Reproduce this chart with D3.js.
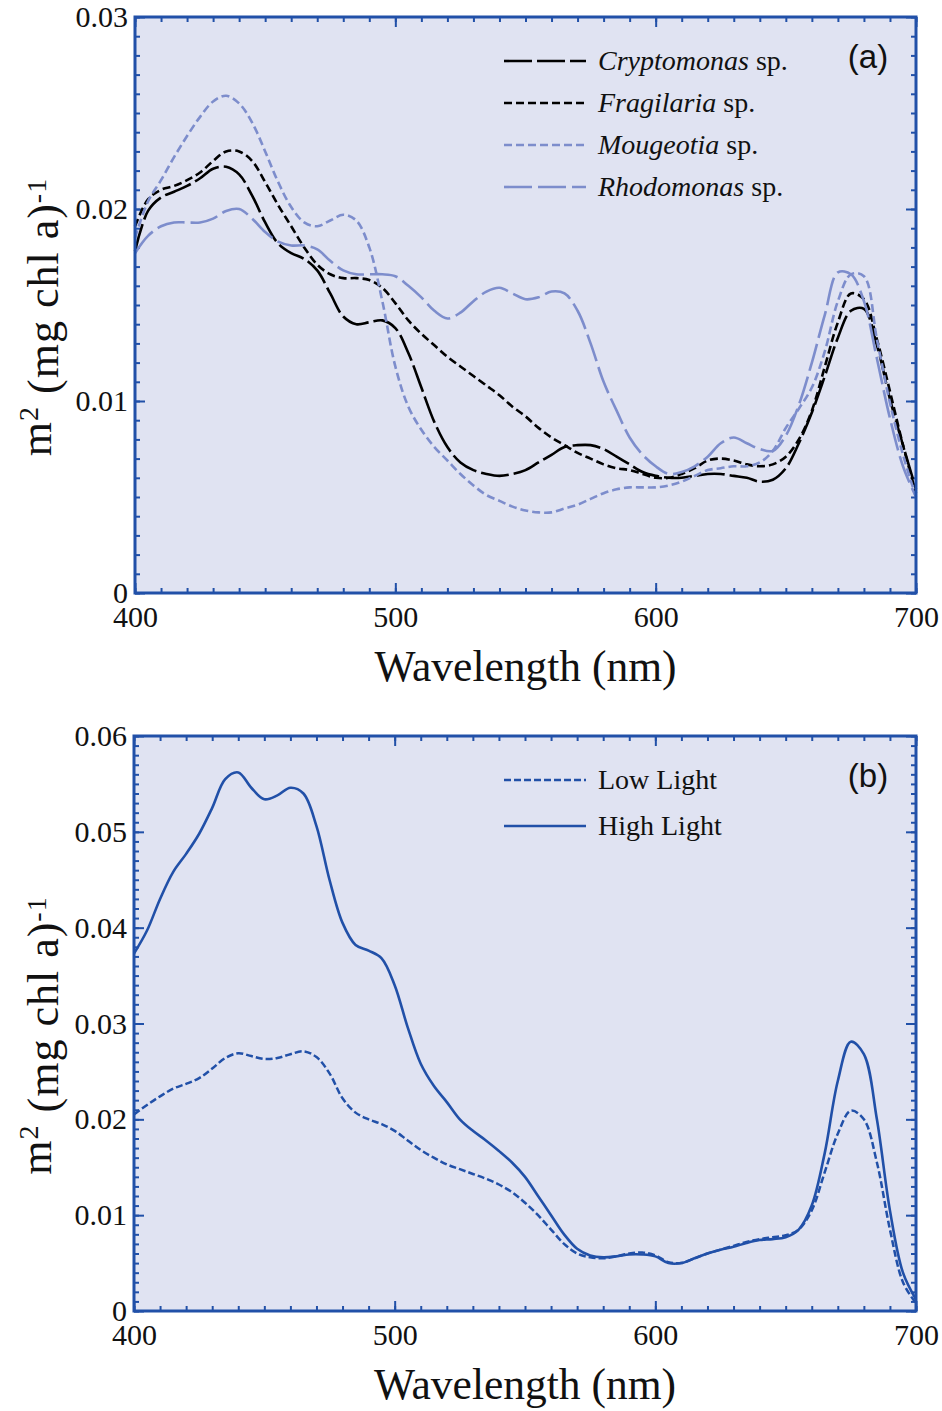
<!DOCTYPE html>
<html>
<head>
<meta charset="utf-8">
<script src="https://cdn.jsdelivr.net/npm/d3@7"></script>
<style>
  body { margin: 0; background: #fff; }
  svg { display: block; }
</style>
</head>
<body>
<svg id="chart"></svg>
<script>
// wavelengths shared by all spectra (nm)
const wavelength = [400,405,410,415,420,425,430,435,440,445,450,455,460,465,470,475,480,485,490,495,
  500,505,510,515,520,525,530,535,540,545,550,555,560,565,570,575,580,585,590,595,
  600,605,610,615,620,625,630,635,640,645,650,655,660,665,670,675,680,685,690,695,700];

// panel (a) species spectra, m2 (mg chl a)-1
const cryptomonas = [0.0178,0.0199,0.0206,0.0209,0.0212,0.0216,0.0221,0.0222,0.0218,0.0207,
  0.0193,0.0182,0.0177,0.0174,0.0168,0.0156,0.0144,0.0140,0.0141,0.0142,
  0.0138,0.0125,0.0107,0.0089,0.0076,0.0068,0.0064,0.0062,0.0061,0.0062,
  0.0064,0.0068,0.0072,0.0076,0.0077,0.0077,0.0075,0.0071,0.0067,0.0063,
  0.0061,0.0060,0.0060,0.0061,0.0062,0.0062,0.0061,0.0060,0.0058,0.0059,
  0.0065,0.0078,0.0094,0.0113,0.0133,0.0147,0.0148,0.0129,0.0101,0.0077,0.0054];
const fragilaria = [0.0191,0.0205,0.0210,0.0212,0.0215,0.0219,0.0225,0.0230,0.0230,0.0225,
  0.0214,0.0202,0.0191,0.0180,0.0171,0.0166,0.0164,0.0164,0.0163,0.0159,
  0.0151,0.0142,0.0135,0.0129,0.0123,0.0118,0.0113,0.0108,0.0103,0.0097,
  0.0092,0.0086,0.0081,0.0077,0.0073,0.0070,0.0067,0.0065,0.0064,0.0062,
  0.0060,0.0060,0.0062,0.0065,0.0069,0.0070,0.0069,0.0067,0.0066,0.0067,
  0.0071,0.0080,0.0095,0.0118,0.0141,0.0156,0.0153,0.0132,0.0105,0.0077,0.0052];
const mougeotia = [0.0185,0.0204,0.0215,0.0227,0.0238,0.0248,0.0256,0.0259,0.0255,0.0245,
  0.0230,0.0214,0.0201,0.0193,0.0191,0.0194,0.0197,0.0194,0.0180,0.0152,
  0.0118,0.0097,0.0085,0.0076,0.0069,0.0062,0.0056,0.0051,0.0048,0.0045,
  0.0043,0.0042,0.0042,0.0044,0.0046,0.0049,0.0052,0.0054,0.0055,0.0055,
  0.0055,0.0056,0.0058,0.0061,0.0064,0.0065,0.0066,0.0066,0.0068,0.0074,
  0.0086,0.0096,0.0107,0.0126,0.0152,0.0166,0.0165,0.0132,0.0099,0.0072,0.0050];
const rhodomonas = [0.0177,0.0186,0.0191,0.0193,0.0193,0.0193,0.0195,0.0199,0.0200,0.0195,
  0.0188,0.0183,0.0181,0.0181,0.0179,0.0173,0.0168,0.0166,0.0166,0.0166,
  0.0165,0.0160,0.0154,0.0147,0.0143,0.0146,0.0152,0.0157,0.0159,0.0156,
  0.0153,0.0154,0.0157,0.0156,0.0147,0.0130,0.0110,0.0095,0.0081,0.0072,
  0.0066,0.0062,0.0063,0.0066,0.0071,0.0078,0.0081,0.0078,0.0075,0.0074,
  0.0082,0.0098,0.0120,0.0145,0.0167,0.0166,0.0152,0.0122,0.0091,0.0066,0.0050];

// panel (b) light treatments
const lowLight = [0.0205,0.0215,0.0224,0.0232,0.0237,0.0243,0.0253,0.0264,0.0269,0.0266,
  0.0263,0.0264,0.0268,0.0271,0.0265,0.0248,0.0222,0.0207,0.0200,0.0195,
  0.0188,0.0178,0.0168,0.0160,0.0153,0.0148,0.0143,0.0138,0.0132,0.0124,
  0.0113,0.0100,0.0085,0.0070,0.0060,0.0056,0.0055,0.0057,0.0060,0.0061,
  0.0058,0.0051,0.0050,0.0055,0.0060,0.0064,0.0068,0.0072,0.0075,0.0077,
  0.0079,0.0085,0.0105,0.0145,0.0185,0.0209,0.0200,0.0155,0.0085,0.0030,0.0008];
const highLight = [0.0373,0.0397,0.0430,0.0458,0.0477,0.0498,0.0525,0.0555,0.0562,0.0546,
  0.0534,0.0538,0.0546,0.0540,0.0506,0.0450,0.0405,0.0382,0.0376,0.0368,
  0.0340,0.0296,0.0258,0.0235,0.0218,0.0200,0.0188,0.0178,0.0167,0.0155,
  0.0140,0.0120,0.0100,0.0080,0.0065,0.0058,0.0056,0.0057,0.0059,0.0059,
  0.0057,0.0050,0.0050,0.0055,0.0060,0.0064,0.0067,0.0071,0.0074,0.0075,
  0.0077,0.0085,0.0110,0.0165,0.0240,0.0281,0.0268,0.0200,0.0105,0.0040,0.0012];

const xTicks = [400, 500, 600, 700];
const yTicksA = [0, 0.01, 0.02, 0.03];
const yTicksB = [0, 0.01, 0.02, 0.03, 0.04, 0.05, 0.06];

const width = 942, height = 1411;
const frameBlue = "#2150a8", lavender = "#e0e3f2", lightSeries = "#7d8dcc";
const serif = "'Liberation Serif', 'Times New Roman', serif";

const svg = d3.select("#chart").attr("width", width).attr("height", height);

function panel(opts) {
  const { left, right, top, bottom, yMax, yTicks, series, legend, tag } = opts;
  const g = svg.append("g");

  const x = d3.scaleLinear().domain([400, 700]).range([left, right]);
  const y = d3.scaleLinear().domain([0, yMax]).range([bottom, top]);

  g.append("rect")
    .attr("x", left).attr("y", top)
    .attr("width", right - left).attr("height", bottom - top)
    .attr("fill", lavender);

  const minorX = d3.range(400, 701, 10);
  const minorY = d3.range(0, yMax + 1e-9, 0.001);

  const styleAxis = (sel) => {
    sel.select(".domain").remove();
    sel.selectAll(".tick line").attr("stroke", frameBlue).attr("stroke-width", 2);
    sel.selectAll(".tick text")
      .attr("fill", "#111")
      .style("font-family", serif)
      .style("font-size", "30px");
  };

  // minor ticks on all four sides, pointing inward
  g.append("g").attr("transform", `translate(0,${bottom})`)
    .call(d3.axisBottom(x).tickValues(minorX).tickSize(-5).tickFormat("")).call(styleAxis);
  g.append("g").attr("transform", `translate(0,${top})`)
    .call(d3.axisTop(x).tickValues(minorX).tickSize(-5).tickFormat("")).call(styleAxis);
  g.append("g").attr("transform", `translate(${left},0)`)
    .call(d3.axisLeft(y).tickValues(minorY).tickSize(-5).tickFormat("")).call(styleAxis);
  g.append("g").attr("transform", `translate(${right},0)`)
    .call(d3.axisRight(y).tickValues(minorY).tickSize(-5).tickFormat("")).call(styleAxis);

  // major ticks + labels
  g.append("g").attr("transform", `translate(0,${bottom})`)
    .call(d3.axisBottom(x).tickValues(xTicks).tickSize(-10).tickPadding(13).tickFormat(d3.format("d")))
    .call(styleAxis);
  g.append("g").attr("transform", `translate(0,${top})`)
    .call(d3.axisTop(x).tickValues(xTicks).tickSize(-10).tickFormat("")).call(styleAxis);
  g.append("g").attr("transform", `translate(${left},0)`)
    .call(d3.axisLeft(y).tickValues(yTicks).tickSize(-10).tickPadding(7)
      .tickFormat((d) => (d === 0 ? "0" : d3.format(".2f")(d))))
    .call(styleAxis);
  g.append("g").attr("transform", `translate(${right},0)`)
    .call(d3.axisRight(y).tickValues(yTicks).tickSize(-10).tickFormat("")).call(styleAxis);

  const line = d3.line()
    .x((d) => x(d[0]))
    .y((d) => y(d[1]))
    .curve(d3.curveCatmullRom.alpha(0.5));

  series.forEach((s) => {
    g.append("path")
      .datum(wavelength.map((w, i) => [w, s.values[i]]))
      .attr("fill", "none")
      .attr("stroke", s.color)
      .attr("stroke-width", s.width)
      .attr("stroke-dasharray", s.dash)
      .attr("d", line);
  });

  // frame
  g.append("rect")
    .attr("x", left).attr("y", top)
    .attr("width", right - left).attr("height", bottom - top)
    .attr("fill", "none")
    .attr("stroke", frameBlue)
    .attr("stroke-width", 3);

  // legend
  series.forEach((s, i) => {
    const ly = legend.y + i * legend.step;
    g.append("line")
      .attr("x1", legend.x).attr("x2", legend.x + 82)
      .attr("y1", ly).attr("y2", ly)
      .attr("stroke", s.color)
      .attr("stroke-width", s.width)
      .attr("stroke-dasharray", s.dash);
    const t = g.append("text")
      .attr("x", legend.x + 94).attr("y", ly + 9)
      .style("font-family", serif)
      .style("font-size", "28px")
      .attr("fill", "#111");
    if (s.italic) {
      t.append("tspan").style("font-style", "italic").text(s.label);
      t.append("tspan").text(" sp.");
    } else {
      t.text(s.label);
    }
  });

  g.append("text")
    .attr("x", right - 48).attr("y", top + 51)
    .attr("text-anchor", "middle")
    .style("font-family", "'Liberation Sans', Arial, sans-serif")
    .style("font-size", "33px")
    .attr("fill", "#111")
    .text(tag);

  // axis titles
  g.append("text")
    .attr("x", (left + right) / 2).attr("y", bottom + 88)
    .attr("text-anchor", "middle")
    .style("font-family", serif)
    .style("font-size", "43.5px")
    .attr("fill", "#111")
    .text("Wavelength (nm)");

  const yt = g.append("text")
    .attr("transform", `translate(51,${(top + bottom) / 2 + 12}) rotate(-90)`)
    .attr("text-anchor", "middle")
    .style("font-family", serif)
    .style("font-size", "44px")
    .style("letter-spacing", "1px")
    .attr("fill", "#111");
  yt.append("tspan").text("m");
  yt.append("tspan").attr("dy", "-0.45em").style("font-size", "28px").text("2");
  yt.append("tspan").attr("dy", "0.45em").text(" (mg chl a)");
  yt.append("tspan").attr("dy", "-0.45em").style("font-size", "28px").text("-1");
}

panel({
  left: 135, right: 916, top: 17, bottom: 593,
  yMax: 0.03, yTicks: yTicksA, tag: "(a)",
  legend: { x: 504, y: 61, step: 42 },
  series: [
    { label: "Cryptomonas", italic: true, values: cryptomonas, color: "#000", width: 2.6, dash: "28,5" },
    { label: "Fragilaria", italic: true, values: fragilaria, color: "#000", width: 2.6, dash: "8,4" },
    { label: "Mougeotia", italic: true, values: mougeotia, color: lightSeries, width: 2.6, dash: "8,4" },
    { label: "Rhodomonas", italic: true, values: rhodomonas, color: lightSeries, width: 2.6, dash: "28,6" }
  ]
});

panel({
  left: 134, right: 916, top: 736, bottom: 1311,
  yMax: 0.06, yTicks: yTicksB, tag: "(b)",
  legend: { x: 504, y: 780, step: 46 },
  series: [
    { label: "Low Light", italic: false, values: lowLight, color: frameBlue, width: 2.5, dash: "7,3" },
    { label: "High Light", italic: false, values: highLight, color: frameBlue, width: 2.6, dash: null }
  ]
});
</script>
</body>
</html>
